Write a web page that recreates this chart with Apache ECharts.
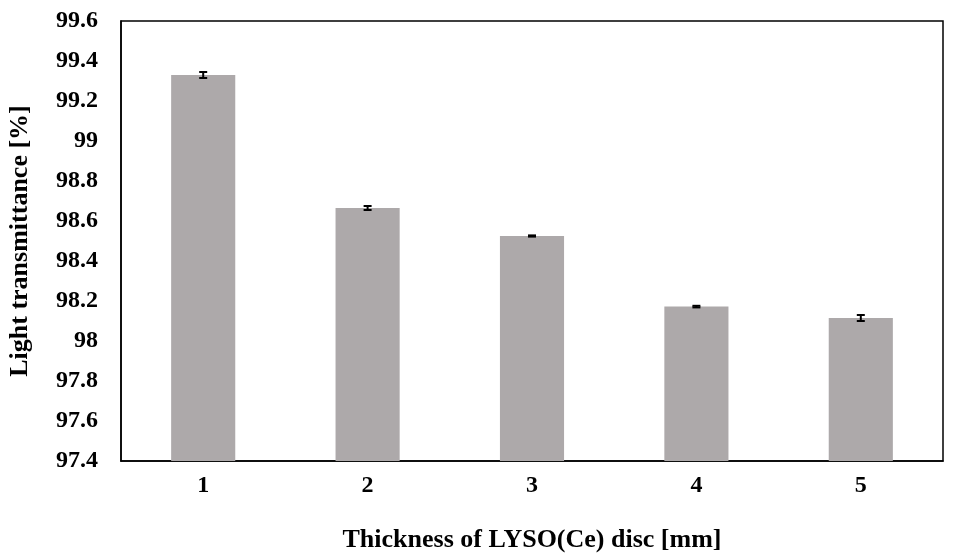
<!DOCTYPE html>
<html><head><meta charset="utf-8">
<script src="https://cdn.jsdelivr.net/npm/echarts@6/dist/echarts.min.js"></script>
<style>html,body{margin:0;padding:0;background:#fff}#c{width:958px;height:558px}</style>
</head><body><div id="c"></div>
<script>
var categories = ['1','2','3','4','5'];
var values = [99.33, 98.665, 98.525, 98.172, 98.115];
var errors = [0.015, 0.01, 0.003, 0.004, 0.015];
var yTicks = [97.4, 99.6, 0.2];

var errData = categories.map(function(c,i){return [i, values[i]-errors[i], values[i]+errors[i]];});
var font = '"Liberation Serif","Times New Roman",serif';
var chart = echarts.init(document.getElementById('c'));
chart.setOption({
  animation:false,
  grid:{left:121,right:15,top:21,bottom:97,show:true,borderColor:'#000',borderWidth:1.5,outerBoundsMode:'none',containLabel:false},
  xAxis:{type:'category',data:categories,
    name:'Thickness of LYSO(Ce) disc [mm]',nameLocation:'middle',nameGap:66,
    nameTextStyle:{fontFamily:font,fontWeight:'bold',fontSize:26,color:'#000'},
    axisLine:{lineStyle:{color:'#000',width:1.5}},axisTick:{show:false},
    axisLabel:{fontFamily:font,fontWeight:'bold',fontSize:24,color:'#000',margin:13}},
  yAxis:{type:'value',min:yTicks[0],max:yTicks[1],interval:yTicks[2],
    name:'Light transmittance [%]',nameLocation:'middle',nameGap:88,
    nameTextStyle:{fontFamily:font,fontWeight:'bold',fontSize:26,color:'#000'},
    axisLine:{show:true,lineStyle:{color:'#000',width:1.5}},axisTick:{show:false},
    splitLine:{show:false},
    axisLabel:{fontFamily:font,fontWeight:'bold',fontSize:24,color:'#000',margin:23,
      formatter:function(v){return String(parseFloat(v.toFixed(1)));}}},
  series:[
    {type:'bar',data:values,barWidth:'39%',itemStyle:{color:'#ADA9AA'}},
    {type:'custom',data:errData,z:10,renderItem:function(params,api){
      var x=api.value(0);
      var lo=api.coord([x,api.value(1)]);
      var hi=api.coord([x,api.value(2)]);
      var w=4;
      return {type:'group',children:[
        {type:'line',shape:{x1:lo[0],y1:lo[1],x2:hi[0],y2:hi[1]},style:{stroke:'#000',lineWidth:2}},
        {type:'line',shape:{x1:lo[0]-w,y1:lo[1],x2:lo[0]+w,y2:lo[1]},style:{stroke:'#000',lineWidth:2}},
        {type:'line',shape:{x1:hi[0]-w,y1:hi[1],x2:hi[0]+w,y2:hi[1]},style:{stroke:'#000',lineWidth:2}}
      ]};
    }}
  ]
});
</script></body></html>
